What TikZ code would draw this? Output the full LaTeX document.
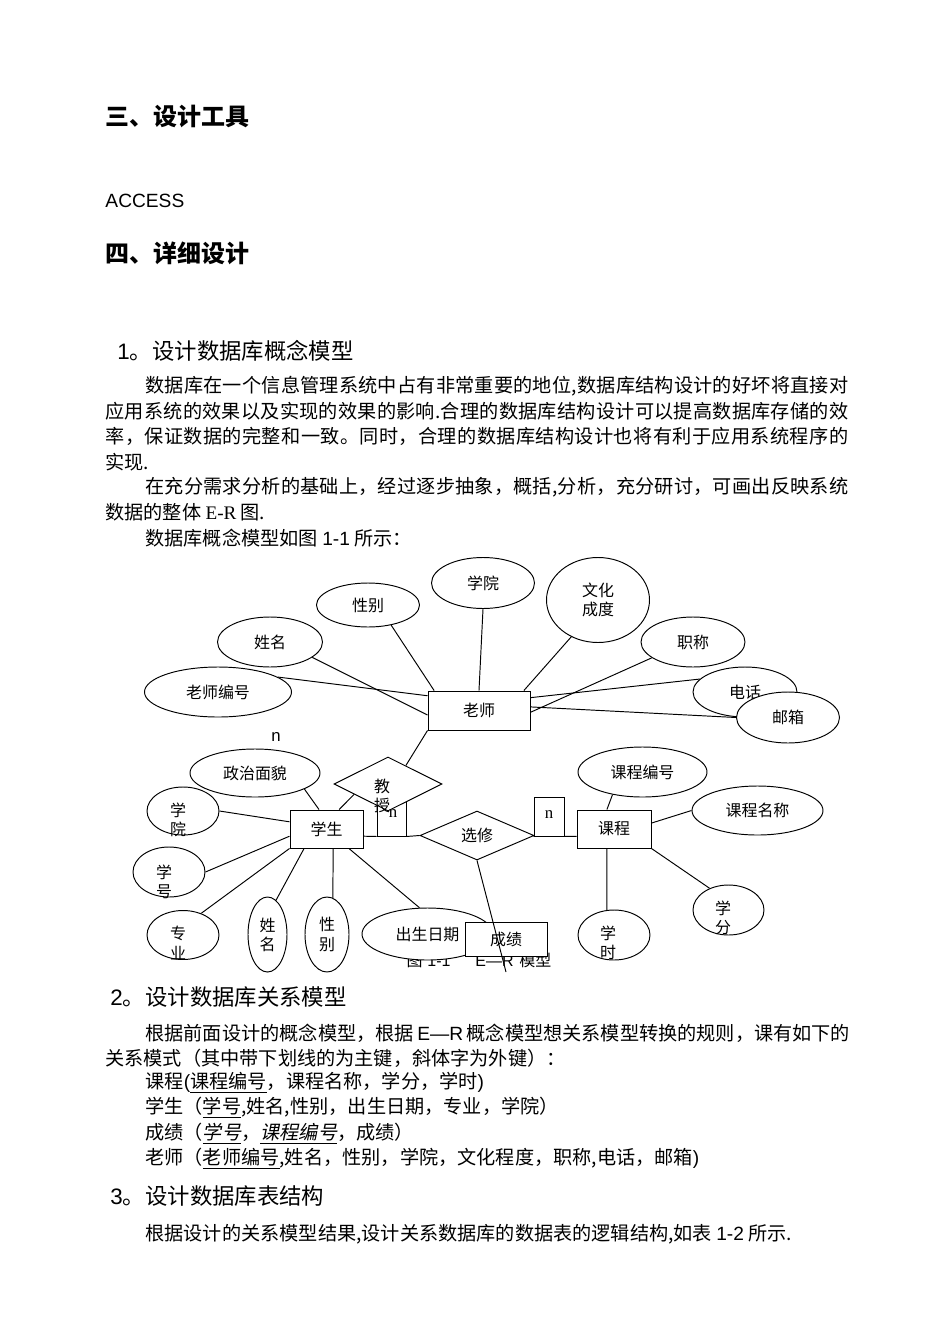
\documentclass[tikz,border=0pt]{standalone}
\usepackage{fontspec}
\setmainfont{Noto Sans CJK SC}
\newfontfamily\latsans{Liberation Sans}
\newfontfamily\latserif{Liberation Serif}
\newfontfamily\cjkslant[FakeSlant=0.2]{Noto Sans CJK SC}
\usetikzlibrary{shapes.geometric}
\def\pxu{0.626pt}
\newcommand\hdfont{\fontsize{15}{18}\selectfont\bfseries}
\newcommand\secfont{\fontsize{14}{17}\selectfont}
\newcommand\txtfont{\fontsize{12}{15}\selectfont}
\newcommand\erfont{\fontsize{10}{12}\selectfont}
% justified line: glue between every character
\ExplSyntaxOn
\NewDocumentCommand \fullline { m m }
  { \makebox [#1] [s] { \tl_map_inline:nn {#2} { {##1} \hfil } \unskip } }
\ExplSyntaxOff

\begin{document}
\begin{tikzpicture}[x=\pxu, y=-\pxu, line width=0.6pt,
  hd/.style={anchor=west,inner sep=0pt,font=\hdfont},
  sec/.style={anchor=west,inner sep=0pt,font=\secfont},
  para/.style={anchor=west,inner sep=0pt,font=\txtfont},
  sz/.style 2 args={minimum width=#1*\pxu,minimum height=#2*\pxu},
  ent/.style={rectangle,draw,fill=white,inner sep=0pt,font=\erfont},
  attr/.style={ellipse,draw,fill=white,inner sep=0pt,align=center,font=\erfont},
  rel/.style={diamond,draw,fill=white,inner sep=0pt,font=\erfont},
  lbl/.style={inner sep=0pt,align=center,font=\erfont},
  cnt/.style={inner sep=0pt,font=\latserif\fontsize{10.5}{12}\selectfont}
]
  \path[use as bounding box,fill=white] (0,0) rectangle (950,1344);

  % headings and first text block
  \node[hd] (h3) at (105,117) {三、设计工具};
  \node[para,font=\latsans\txtfont] (acc) at (105,201) {ACCESS};
  \node[hd] (h4) at (105,253) {四、详细设计};
  \node[sec] (s1) at (117,351) {{\latsans 1}。设计数据库概念模型};
  \node[para] (p1) at (145,386) {\fullline{440pt}{数据库在一个信息管理系统中占有非常重要的地位,数据库结构设计的好坏将直接对}};
  \node[para] (p2) at (105,411) {\fullline{465pt}{应用系统的效果以及实现的效果的影响.合理的数据库结构设计可以提高数据库存储的效}};
  \node[para] (p3) at (105,436) {\fullline{465pt}{率，保证数据的完整和一致。同时，合理的数据库结构设计也将有利于应用系统程序的}};
  \node[para] (p4) at (105,462) {实现.};
  \node[para] (p5) at (145,487) {\fullline{440pt}{在充分需求分析的基础上，经过逐步抽象，概括,分析，充分研讨，可画出反映系统}};
  \node[para] (p6) at (105,512) {数据的整体 {\latserif E-R} 图.};
  \node[para] (p7) at (145,538) {数据库概念模型如图 {\latsans 1-1} 所示：};

  % E-R diagram
  \node[font=\erfont,inner sep=0pt] (cap) at (479,960) {图\hspace{3pt}{\latsans 1-1}\hspace{15.6pt}{\latsans E—R}\hspace{3.7pt}模型};

  \node[ent,sz={102}{39}] (ls) at (479,710.5) {老师};
  \node[attr,sz={103}{44}] (ls-xb) at (368,605) {性别};
  \node[attr,sz={105}{50}] (ls-xm) at (270,642) {姓名};
  \node[attr,sz={147}{50}] (ls-bh) at (218,692) {老师编号};
  \node[attr,sz={103}{51}] (ls-xy) at (483,583) {学院};
  \node[attr,sz={103}{85}] (ls-wh) at (598,600) {文化\\成度};
  \node[attr,sz={104}{50}] (ls-zc) at (693,642) {职称};
  \node[attr,sz={104}{50}] (ls-dh) at (745,692) {电话};
  \node[attr,sz={103}{51}] (ls-yx) at (788,717.5) {邮箱};
  \node[inner sep=0pt,font=\latsans\fontsize{10.5}{12}\selectfont] (n0) at (276,737) {n};

  \node[ent,sz={73}{38}] (xs) at (326.5,829) {学生};
  \node[attr,sz={130}{48}] (xs-zz) at (255,773) {政治面貌};
  \node[attr,sz={72}{48}] (xs-xy) at (183,811) {};
  \node[lbl] (xs-xy-t) at (178,820) {学\\院};
  \node[attr,sz={72}{50}] (xs-xh) at (169,872) {};
  \node[lbl] (xs-xh-t) at (164,882) {学\\号};
  \node[attr,sz={72}{49}] (xs-zy) at (183,935) {};
  \node[lbl] (xs-zy-t) at (178,943) {专\\业};
  \node[attr,sz={39}{75}] (xs-xm) at (267.5,934.5) {姓\\名};
  \node[attr,sz={44}{75}] (xs-xb) at (327,934.5) {性\\别};
  \node[attr,sz={131}{52}] (xs-cs) at (427.5,934) {出生日期};

  \node[ent,sz={29}{46}] (nb1) at (391.5,813) {};
  \node[rel,sz={108}{54}] (jsh) at (388,784) {};
  \node[cnt] (n1) at (393,814) {n};
  \node[lbl,font=\fontsize{10}{11.5}\selectfont] (jsh-t) at (382,796) {教\\授};

  \node[rel,sz={114}{49}] (xx) at (477,835.5) {选修};
  \node[ent,sz={30}{39}] (nb2) at (549,816.5) {};
  \node[cnt] (n2) at (549,815) {n};

  \node[ent,sz={74}{38}] (kc) at (614,829) {课程};
  \node[attr,sz={129}{50}] (kc-bh) at (642.5,772) {课程编号};
  \node[attr,sz={131}{49}] (kc-mc) at (757.5,810.5) {课程名称};
  \node[attr,sz={71}{50}] (kc-xf) at (728.5,910) {};
  \node[lbl] (kc-xf-t) at (723,918) {学\\分};
  \node[attr,sz={72}{50}] (kc-xs) at (614,935) {};
  \node[lbl] (kc-xs-t) at (608,943) {学\\时};

  \node[ent,sz={82}{34}] (cj) at (506,939) {成绩};
  \coordinate (cj-end) at (506,972);

  \foreach \a/\b in {ls-bh.14/ls.164, ls-xm.-20/ls.185, ls-xb.-41/ls.156, ls-xy.south/ls.north,
    ls-wh.-126/ls.24, ls-zc.201/ls.-2, ls-dh.164/ls.14, ls-yx.west/ls.4}{\draw (\a)--(\b);}
  \foreach \a/\b in {xs-zz.-18/xs.111, xs-xy.east/xs.169, xs-xh.east/xs.191, xs-zy.50/xs.south west,
    xs-xm.76/xs.221, xs-xb.81/xs.-71, xs-cs.107/xs.-41}{\draw (\a)--(\b);}
  \foreach \a/\b in {kc-bh.217/kc.110, kc-mc.west/kc.9, kc-xf.131/kc.south east, kc-xs.106/kc.250}{\draw (\a)--(\b);}
  \draw (ls.south west) -- (jsh.46);
  \draw (xs.57) -- (jsh.197);
  \draw (xs.-11) -- (nb1.south west);
  \draw (nb1.south east) -- (xx.west);
  \draw (xx.east) -- (nb2.south west);
  \draw (nb2.south east) -- (kc.191);
  \draw (xx.south) -- (cj-end);

  % second and third text blocks
  \node[sec] (s2) at (110,997) {{\latsans 2}。设计数据库关系模型};
  \node[para] (q1) at (145,1033) {\fullline{440pt}{根据前面设计的概念模型，根据{\latsans\ E—R\ }概念模型想关系模型转换的规则，课有如下的}};
  \node[para] (q2) at (105,1058) {关系模式（其中带下划线的为主键，斜体字为外键）：};
  \node[para] (q3) at (145,1083) {课程{\latsans (}\underline{课程编号}，课程名称，学分，学时{\latsans )}};
  \node[para] (q4) at (145,1108) {学生（\underline{学号},姓名,性别，出生日期，专业，学院）};
  \node[para] (q5) at (145,1134) {成绩（\underline{\cjkslant 学号}，\underline{\cjkslant 课程编号}，成绩）};
  \node[para] (q6) at (145,1159) {老师（\underline{老师编号},姓名，性别，学院，文化程度，职称,电话，邮箱{\latsans )}};
  \node[sec] (s3) at (110,1196) {{\latsans 3}。设计数据库表结构};
  \node[para] (q7) at (145,1234) {根据设计的关系模型结果,设计关系数据库的数据表的逻辑结构,如表 {\latsans 1-2} 所示.};
\end{tikzpicture}
\end{document}
